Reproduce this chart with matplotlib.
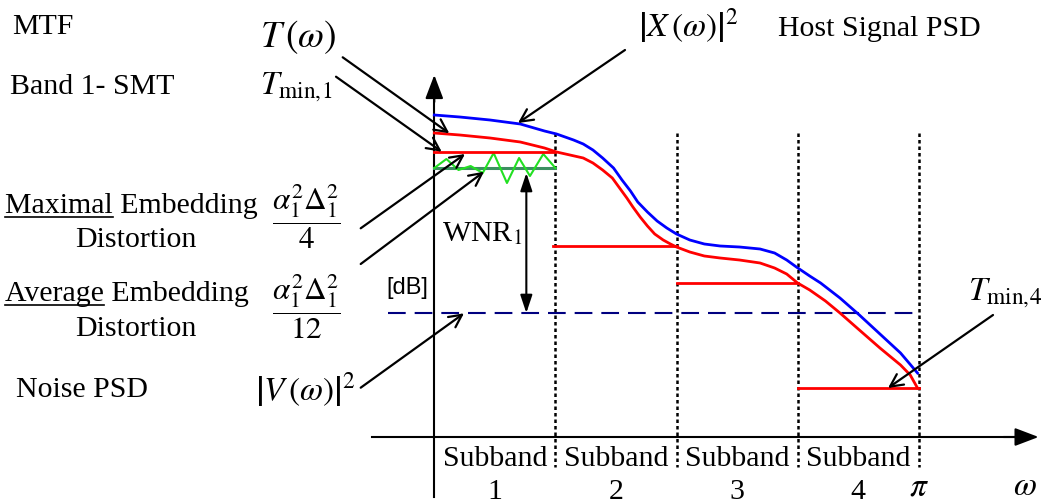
import numpy as np
import matplotlib
matplotlib.use("Agg")
import matplotlib.pyplot as plt
from matplotlib.lines import Line2D

# Datos del diagrama (omega en unidades de subbanda: pi = 4, nivel en dB arbitrarios)
omega_host = [0.0, 0.21, 0.46, 0.71, 0.91, 1.01, 1.15, 1.23, 1.31, 1.39, 1.48, 1.55,
              1.62, 1.68, 1.76, 1.84, 1.92, 2.0, 2.11, 2.23, 2.36, 2.52, 2.69, 2.81,
              2.91, 2.99, 3.1, 3.19, 3.35, 3.51, 3.68, 3.85, 3.99]
psd_host = [32.2, 32.0, 31.7, 31.3, 30.6, 30.3, 29.7, 29.3, 28.7, 27.9, 26.9, 25.7,
            24.6, 23.5, 22.5, 21.6, 20.9, 20.3, 19.7, 19.3, 19.1, 19.0, 18.8, 18.4,
            17.7, 17.0, 16.1, 15.4, 13.9, 12.2, 10.3, 8.4, 6.4]

omega_mtf = [0.0, 0.21, 0.46, 0.71, 0.91, 1.01, 1.12, 1.23, 1.31, 1.39, 1.47, 1.53,
             1.59, 1.64, 1.7, 1.76, 1.82, 1.89, 1.95, 2.0, 2.11, 2.23, 2.36, 2.52,
             2.69, 2.81, 2.91, 3.0, 3.1, 3.23, 3.35, 3.51, 3.68, 3.85, 3.93, 3.99]
mtf = [30.4, 30.2, 29.9, 29.5, 28.9, 28.5, 28.2, 27.9, 27.4, 26.7, 25.9, 24.9,
       23.9, 23.0, 22.0, 21.1, 20.3, 19.7, 19.3, 19.0, 18.5, 18.1, 17.9, 17.7,
       17.4, 16.9, 16.3, 15.4, 14.7, 13.6, 12.4, 10.7, 8.9, 7.2, 6.2, 4.9]

band_edges = [0, 1, 2, 3, 4]
smt_levels = [28.5, 19.1, 15.4, 4.9]

omega_dist = [0, 0.1, 0.2, 0.3, 0.4, 0.49, 0.6, 0.7, 0.79, 0.9, 1.0]
dist_max = [26.9, 27.8, 26.7, 27.1, 26.4, 28.4, 25.4, 27.9, 26.1, 28.3, 26.9]
dist_avg = 26.9
noise_level = 12.4

subband_labels = ["Subband", "Subband", "Subband", "Subband"]
subband_nums = ["1", "2", "3", "4"]

W, H = 1042, 504
plt.rcParams['font.family'] = ['Liberation Serif', 'DejaVu Serif']
plt.rcParams['mathtext.fontset'] = 'stix'

fig = plt.figure(figsize=(W / 100, H / 100), dpi=100)
ax = fig.add_axes([0, 0, 1, 1])
ax.axis('off')
# escala: x_px = 434.3 + 121.1*omega ; y_px = 437 - 10*nivel
ax.set_xlim((0 - 434.3) / 121.1, (W - 434.3) / 121.1)
ax.set_ylim((437 - H) / 10, 437 / 10)


def P(px, py):
    return (px / W, 1 - py / H)


FS = 21.5
FM = 24

# ejes
ax.plot([-0.516, 4.8], [0, 0], color='k', lw=1.5)
ax.annotate('', xy=(4.99, 0), xytext=(4.7, 0),
            arrowprops=dict(arrowstyle='-|>,head_length=1.0,head_width=0.38',
                            mutation_scale=14.5, color='k', lw=1.5, shrinkA=0, shrinkB=0))
ax.plot([0, 0], [-6.0, 34.0], color='k', lw=1.5)
ax.annotate('', xy=(0, 36.2), xytext=(0, 33.5),
            arrowprops=dict(arrowstyle='-|>,head_length=1.0,head_width=0.38',
                            mutation_scale=14.5, color='k', lw=1.5, shrinkA=0, shrinkB=0))

# lineas punteadas de subbanda
for e in band_edges[1:]:
    ax.plot([e, e], [30.4, -3.0], color='k', lw=1.8, linestyle=(0, (1.4, 1.2)))

# ruido
ax.plot([-0.38, 4.0], [noise_level, noise_level], color='#000080', lw=1.5,
        linestyle=(0, (8.5, 4.3)))

# distorsion
ax.plot([0, 1], [dist_avg, dist_avg], color='#3c9060', lw=2.2)
ax.plot(omega_dist, dist_max, color='#22e022', lw=1.5)

# SMT por banda
for i, lvl in enumerate(smt_levels):
    ax.plot([band_edges[i] - (0.02 if i == 1 else 0), band_edges[i + 1]], [lvl, lvl],
            color='#ff0000', lw=2.0)

ax.plot(omega_mtf, mtf, color='#ff0000', lw=2.0, solid_joinstyle='round')
ax.plot(omega_host, psd_host, color='#0000ff', lw=2.0, solid_joinstyle='round')

# WNR
ax.annotate('', xy=(0.76, noise_level), xytext=(0.76, dist_avg - 0.5),
            arrowprops=dict(arrowstyle='<|-|>,head_length=0.9,head_width=0.3',
                            mutation_scale=12, color='k', lw=1.5, shrinkA=0, shrinkB=0))

# flechas de etiquetas
pointers = [((342.7, 57.3), (449.3, 133.3)),
            ((336, 76.7), (441.7, 151.7)),
            ((625, 50), (518, 123)),
            ((360.7, 228.3), (465, 154)),
            ((360.7, 264), (484, 171.7)),
            ((360.7, 387.7), (464, 313.3)),
            ((993, 315), (888, 388))]
for a, b in pointers:
    ax.annotate('', xy=P(*b), xycoords='figure fraction', xytext=P(*a),
                textcoords='figure fraction',
                arrowprops=dict(arrowstyle='->,head_length=0.7,head_width=0.35',
                                mutation_scale=13, color='k', lw=1.6, shrinkA=0, shrinkB=0))

tf = fig.transFigure
fig.text(*P(12, 27), "MTF", fontsize=FS, ha='left', va='center')
fig.text(*P(10, 87), "Band 1- SMT", fontsize=FS, ha='left', va='center')
fig.text(*P(298, 37), r"$T\,(\omega)$", fontsize=27, ha='center', va='center')
fig.text(*P(296, 87), r"$T_{\mathrm{min},\!1}$", fontsize=FM, ha='center', va='center')
fig.text(*P(688, 26), r"$\left|X\,(\omega)\right|^2$", fontsize=FM, ha='center', va='center')
fig.text(*P(778, 29), "Host Signal PSD", fontsize=FS, ha='left', va='center')

t_max = fig.text(*P(5, 213), "Maximal Embedding", fontsize=FS, ha='left', va='baseline')
w_max = fig.text(*P(5, 213), "Maximal", fontsize=FS, ha='left', va='baseline', alpha=0)
fig.text(*P(136, 247), "Distortion", fontsize=FS, ha='center', va='baseline')
t_avg = fig.text(*P(5, 301), "Average Embedding", fontsize=FS, ha='left', va='baseline')
w_avg = fig.text(*P(5, 301), "Average", fontsize=FS, ha='left', va='baseline', alpha=0)
fig.text(*P(136, 336), "Distortion", fontsize=FS, ha='center', va='baseline')

fig.text(*P(306, 217), r"$\dfrac{\alpha_1^2\Delta_1^2}{4}$", fontsize=FS + 1, ha='center', va='center')
fig.text(*P(306, 307), r"$\dfrac{\alpha_1^2\Delta_1^2}{12}$", fontsize=FS + 1, ha='center', va='center')
fig.text(*P(16, 390), "Noise PSD", fontsize=FS, ha='left', va='center')
fig.text(*P(305, 390), r"$\left|V\,(\omega)\right|^2$", fontsize=FM, ha='center', va='center')
fig.text(*P(407, 288), "[dB]", fontsize=17, ha='center', va='center',
         family=['Liberation Sans', 'DejaVu Sans'])
fig.text(*P(482, 234), r"WNR$_1$", fontsize=FS, ha='center', va='center')
fig.text(*P(1005, 293), r"$T_{\mathrm{min},\!4}$", fontsize=FM, ha='center', va='center')

for i in range(4):
    c = (band_edges[i] + band_edges[i + 1]) / 2
    ax.text(c, (437 - 459) / 10, subband_labels[i], fontsize=FS, ha='center', va='center')
    ax.text(c, (437 - 492) / 10, subband_nums[i], fontsize=FS, ha='center', va='center')
ax.text(4.0, (437 - 487) / 10, r"$\pi$", fontsize=FM, ha='center', va='center')
ax.text(4.88, (437 - 487) / 10, r"$\omega$", fontsize=FM, ha='center', va='center')

# subrayados
fig.canvas.draw()
r = fig.canvas.get_renderer()
for w in (w_max, w_avg):
    bb = w.get_window_extent(r)
    yb = w.get_position()[1] * H - 4
    fig.add_artist(Line2D([bb.x0 / W, bb.x1 / W], [yb / H, yb / H], color='k', lw=1.2,
                          transform=tf))

fig.savefig("out.png", dpi=100)
